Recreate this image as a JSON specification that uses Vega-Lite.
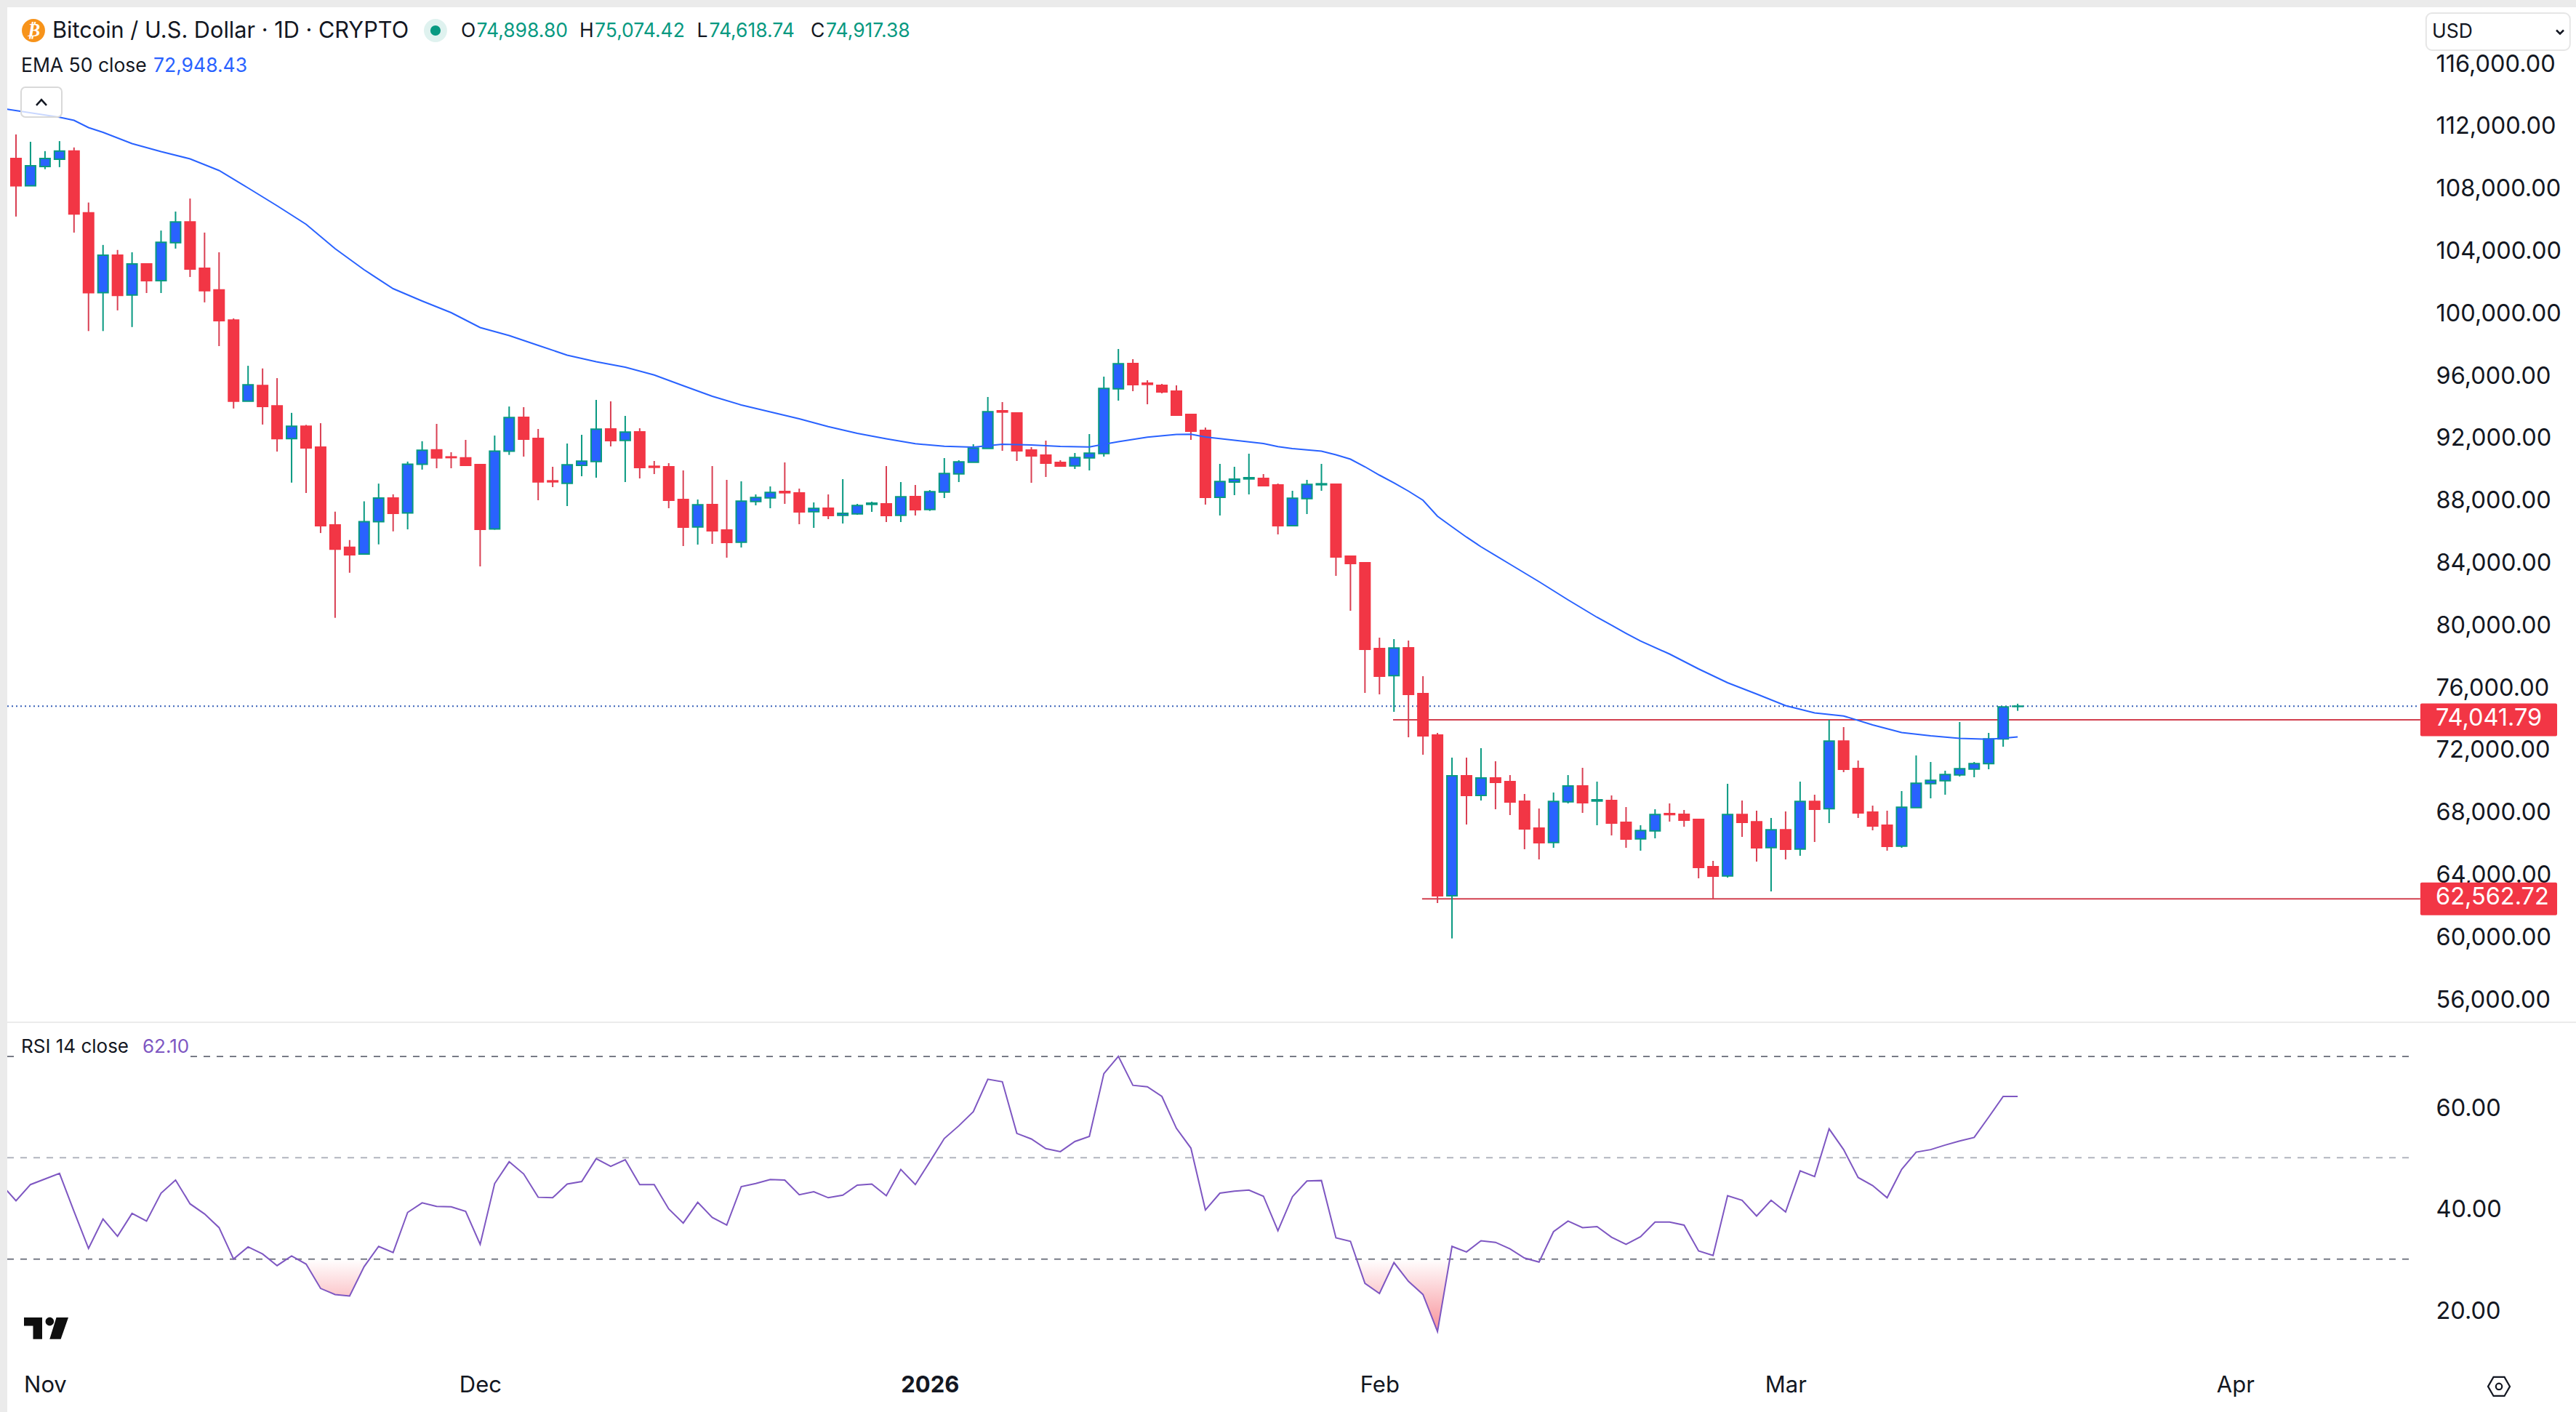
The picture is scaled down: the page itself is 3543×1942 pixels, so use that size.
{"$schema":"https://vega.github.io/schema/vega-lite/v6.json","background":"#ebebeb","padding":{"left":9,"top":10,"right":0,"bottom":0},"spacing":2,"bounds":"flush","config":{"view":{"fill":"#ffffff","stroke":null},"text":{"font":"Inter"},"axis":{"labelFont":"Inter","labelColor":"#131722","domain":false,"ticks":false,"grid":false}},
"datasets":{"candles":[
{"date":"2025-10-29","rsi":44.7},
{"date":"2025-10-30","open":110035,"high":111576,"low":106311,"close":108280,"rsi":41.5},
{"date":"2025-10-31","open":108280,"high":111105,"low":108280,"close":109564,"rsi":44.7},
{"date":"2025-11-01","open":109521,"high":110506,"low":109350,"close":110035,"rsi":45.8},
{"date":"2025-11-02","open":109992,"high":111148,"low":109479,"close":110506,"rsi":46.9},
{"date":"2025-11-03","open":110506,"high":110741,"low":105283,"close":106482,"rsi":39.4},
{"date":"2025-11-04","open":106546,"high":107210,"low":98969,"close":101430,"rsi":32.1},
{"date":"2025-11-05","open":101430,"high":104491,"low":98969,"close":103828,"rsi":37.9},
{"date":"2025-11-06","open":103828,"high":104170,"low":100296,"close":101259,"rsi":34.5},
{"date":"2025-11-07","open":101281,"high":104020,"low":99226,"close":103271,"rsi":39.0},
{"date":"2025-11-08","open":103271,"high":103314,"low":101409,"close":102201,"rsi":37.5},
{"date":"2025-11-09","open":102201,"high":105412,"low":101409,"close":104663,"rsi":43.0},
{"date":"2025-11-10","open":104641,"high":106632,"low":104256,"close":105968,"rsi":45.6},
{"date":"2025-11-11","open":105968,"high":107466,"low":102436,"close":102950,"rsi":40.9},
{"date":"2025-11-12","open":102993,"high":105283,"low":100809,"close":101559,"rsi":38.9},
{"date":"2025-11-13","open":101601,"high":104020,"low":98005,"close":99632,"rsi":36.2},
{"date":"2025-11-14","open":99675,"high":99782,"low":94003,"close":94474,"rsi":30.0},
{"date":"2025-11-15","open":94474,"high":96742,"low":94474,"close":95522,"rsi":32.4},
{"date":"2025-11-16","open":95480,"high":96571,"low":92975,"close":94131,"rsi":31.0},
{"date":"2025-11-17","open":94174,"high":95951,"low":91242,"close":92076,"rsi":28.7},
{"date":"2025-11-18","open":92076,"high":93724,"low":89251,"close":92868,"rsi":30.6},
{"date":"2025-11-19","open":92868,"high":92954,"low":88587,"close":91477,"rsi":29.0},
{"date":"2025-11-20","open":91520,"high":93061,"low":86019,"close":86489,"rsi":24.2},
{"date":"2025-11-21","open":86532,"high":87389,"low":80582,"close":84991,"rsi":23.0},
{"date":"2025-11-22","open":85098,"high":85569,"low":83472,"close":84627,"rsi":22.7},
{"date":"2025-11-23","open":84670,"high":88052,"low":84627,"close":86746,"rsi":28.5},
{"date":"2025-11-24","open":86746,"high":89187,"low":85291,"close":88266,"rsi":32.5},
{"date":"2025-11-25","open":88266,"high":88501,"low":86126,"close":87281,"rsi":31.3},
{"date":"2025-11-26","open":87303,"high":90599,"low":86254,"close":90428,"rsi":39.2},
{"date":"2025-11-27","open":90428,"high":91905,"low":90086,"close":91327,"rsi":41.1},
{"date":"2025-11-28","open":91349,"high":93018,"low":90171,"close":90835,"rsi":40.4},
{"date":"2025-11-29","open":90899,"high":91199,"low":90171,"close":90856,"rsi":40.3},
{"date":"2025-11-30","open":90835,"high":91990,"low":90364,"close":90364,"rsi":39.4},
{"date":"2025-12-01","open":90407,"high":90407,"low":83878,"close":86254,"rsi":32.9},
{"date":"2025-12-02","open":86275,"high":92269,"low":86232,"close":91263,"rsi":44.9},
{"date":"2025-12-03","open":91263,"high":94131,"low":91028,"close":93425,"rsi":49.2},
{"date":"2025-12-04","open":93436,"high":94089,"low":90919,"close":92038,"rsi":46.8},
{"date":"2025-12-05","open":92084,"high":92690,"low":88121,"close":89303,"rsi":42.2},
{"date":"2025-12-06","open":89365,"high":90266,"low":88961,"close":89303,"rsi":42.1},
{"date":"2025-12-07","open":89209,"high":91758,"low":87748,"close":90390,"rsi":44.8},
{"date":"2025-12-08","open":90359,"high":92317,"low":89660,"close":90624,"rsi":45.3},
{"date":"2025-12-09","open":90608,"high":94555,"low":89567,"close":92675,"rsi":49.8},
{"date":"2025-12-10","open":92690,"high":94462,"low":91571,"close":91944,"rsi":48.3},
{"date":"2025-12-11","open":91960,"high":93529,"low":89287,"close":92488,"rsi":49.6},
{"date":"2025-12-12","open":92504,"high":92737,"low":89520,"close":90219,"rsi":44.7},
{"date":"2025-12-13","open":90297,"high":90639,"low":89800,"close":90235,"rsi":44.7},
{"date":"2025-12-14","open":90266,"high":90499,"low":87609,"close":88121,"rsi":39.9},
{"date":"2025-12-15","open":88168,"high":90033,"low":85184,"close":86397,"rsi":37.1},
{"date":"2025-12-16","open":86412,"high":88168,"low":85277,"close":87826,"rsi":41.2},
{"date":"2025-12-17","open":87842,"high":90313,"low":85324,"close":86163,"rsi":38.2},
{"date":"2025-12-18","open":86210,"high":89427,"low":84438,"close":85417,"rsi":36.7},
{"date":"2025-12-19","open":85433,"high":89333,"low":85091,"close":88059,"rsi":44.3},
{"date":"2025-12-20","open":88044,"high":88494,"low":87795,"close":88292,"rsi":44.9},
{"date":"2025-12-21","open":88277,"high":89007,"low":87609,"close":88619,"rsi":45.7},
{"date":"2025-12-22","open":88681,"high":90546,"low":87888,"close":88603,"rsi":45.6},
{"date":"2025-12-23","open":88588,"high":88867,"low":86583,"close":87375,"rsi":42.7},
{"date":"2025-12-24","open":87391,"high":87981,"low":86350,"close":87593,"rsi":43.3},
{"date":"2025-12-25","open":87609,"high":88494,"low":86909,"close":87143,"rsi":42.1},
{"date":"2025-12-26","open":87158,"high":89473,"low":86630,"close":87282,"rsi":42.6},
{"date":"2025-12-27","open":87251,"high":87888,"low":87189,"close":87780,"rsi":44.6},
{"date":"2025-12-28","open":87857,"high":88028,"low":87375,"close":87935,"rsi":44.8},
{"date":"2025-12-29","open":87888,"high":90313,"low":86723,"close":87143,"rsi":42.5},
{"date":"2025-12-30","open":87158,"high":89287,"low":86723,"close":88339,"rsi":47.7},
{"date":"2025-12-31","open":88354,"high":89100,"low":87143,"close":87515,"rsi":44.7},
{"date":"2026-01-01","open":87531,"high":88774,"low":87438,"close":88665,"rsi":49.2},
{"date":"2026-01-02","open":88650,"high":90825,"low":88261,"close":89831,"rsi":53.8},
{"date":"2026-01-03","open":89815,"high":90686,"low":89287,"close":90577,"rsi":56.3},
{"date":"2026-01-04","open":90561,"high":91711,"low":90561,"close":91463,"rsi":59.1},
{"date":"2026-01-05","open":91447,"high":94741,"low":91447,"close":93794,"rsi":65.5},
{"date":"2026-01-06","open":93856,"high":94415,"low":91292,"close":93778,"rsi":65.0},
{"date":"2026-01-07","open":93716,"high":93716,"low":90639,"close":91292,"rsi":54.8},
{"date":"2026-01-08","open":91338,"high":91525,"low":89240,"close":90965,"rsi":53.7},
{"date":"2026-01-09","open":91012,"high":91944,"low":89613,"close":90499,"rsi":51.8},
{"date":"2026-01-10","open":90546,"high":90686,"low":90266,"close":90313,"rsi":51.2},
{"date":"2026-01-11","open":90328,"high":91152,"low":90126,"close":90856,"rsi":53.2},
{"date":"2026-01-12","open":90841,"high":92364,"low":90033,"close":91136,"rsi":54.2},
{"date":"2026-01-13","open":91121,"high":96047,"low":90919,"close":95285,"rsi":66.6},
{"date":"2026-01-14","open":95270,"high":97818,"low":94508,"close":96870,"rsi":70.0},
{"date":"2026-01-15","open":96886,"high":97166,"low":95114,"close":95534,"rsi":64.3},
{"date":"2026-01-16","open":95627,"high":95814,"low":94275,"close":95550,"rsi":64.0},
{"date":"2026-01-17","open":95487,"high":95581,"low":94975,"close":95068,"rsi":62.1},
{"date":"2026-01-18","open":95114,"high":95487,"low":93576,"close":93576,"rsi":55.8},
{"date":"2026-01-19","open":93623,"high":93623,"low":91991,"close":92550,"rsi":51.9},
{"date":"2026-01-20","open":92597,"high":92783,"low":87842,"close":88308,"rsi":39.7},
{"date":"2026-01-21","open":88308,"high":90452,"low":87143,"close":89318,"rsi":43.0},
{"date":"2026-01-22","open":89287,"high":90266,"low":88448,"close":89473,"rsi":43.4},
{"date":"2026-01-23","open":89489,"high":91105,"low":88494,"close":89567,"rsi":43.6},
{"date":"2026-01-24","open":89520,"high":89800,"low":89054,"close":89054,"rsi":42.4},
{"date":"2026-01-25","open":89100,"high":89194,"low":85930,"close":86490,"rsi":35.6},
{"date":"2026-01-26","open":86490,"high":88727,"low":86443,"close":88246,"rsi":42.3},
{"date":"2026-01-27","open":88230,"high":89427,"low":87236,"close":89131,"rsi":45.4},
{"date":"2026-01-28","open":89116,"high":90452,"low":88727,"close":89178,"rsi":45.5},
{"date":"2026-01-29","open":89147,"high":89194,"low":83273,"close":84485,"rsi":34.2},
{"date":"2026-01-30","open":84532,"high":84578,"low":81035,"close":84065,"rsi":33.5},
{"date":"2026-01-31","open":84112,"high":84112,"low":75767,"close":78564,"rsi":25.2},
{"date":"2026-02-01","open":78611,"high":79310,"low":75674,"close":76839,"rsi":23.2},
{"date":"2026-02-02","open":76870,"high":79217,"low":74555,"close":78642,"rsi":29.3},
{"date":"2026-02-03","open":78658,"high":79124,"low":72923,"close":75674,"rsi":25.6},
{"date":"2026-02-04","open":75721,"high":76839,"low":71804,"close":73017,"rsi":23.0},
{"date":"2026-02-05","open":73063,"high":73203,"low":62294,"close":62760,"rsi":15.7},
{"date":"2026-02-06","open":62760,"high":71618,"low":60025,"close":70452,"rsi":32.5},
{"date":"2026-02-07","open":70452,"high":71618,"low":67329,"close":69194,"rsi":31.4},
{"date":"2026-02-08","open":69194,"high":72224,"low":68867,"close":70313,"rsi":33.6},
{"date":"2026-02-09","open":70313,"high":71385,"low":68308,"close":70033,"rsi":33.3},
{"date":"2026-02-10","open":70079,"high":70499,"low":67935,"close":68774,"rsi":32.0},
{"date":"2026-02-11","open":68821,"high":69287,"low":65744,"close":67049,"rsi":30.2},
{"date":"2026-02-12","open":67096,"high":68354,"low":65091,"close":66164,"rsi":29.4},
{"date":"2026-02-13","open":66179,"high":69380,"low":65837,"close":68805,"rsi":35.4},
{"date":"2026-02-14","open":68790,"high":70499,"low":68681,"close":69800,"rsi":37.5},
{"date":"2026-02-15","open":69800,"high":70965,"low":68075,"close":68727,"rsi":36.2},
{"date":"2026-02-16","open":68836,"high":70079,"low":67282,"close":68914,"rsi":36.4},
{"date":"2026-02-17","open":68867,"high":69194,"low":66630,"close":67422,"rsi":34.3},
{"date":"2026-02-18","open":67469,"high":68448,"low":65837,"close":66397,"rsi":32.9},
{"date":"2026-02-19","open":66412,"high":67282,"low":65651,"close":66940,"rsi":34.4},
{"date":"2026-02-20","open":66925,"high":68308,"low":66443,"close":67966,"rsi":37.3},
{"date":"2026-02-21","open":68028,"high":68681,"low":67515,"close":67966,"rsi":37.3},
{"date":"2026-02-22","open":67982,"high":68261,"low":67189,"close":67608,"rsi":36.7},
{"date":"2026-02-23","open":67655,"high":67655,"low":63879,"close":64578,"rsi":31.6},
{"date":"2026-02-24","open":64625,"high":64998,"low":62574,"close":64019,"rsi":30.7},
{"date":"2026-02-25","open":64034,"high":69940,"low":63926,"close":67966,"rsi":42.5},
{"date":"2026-02-26","open":67966,"high":68867,"low":66537,"close":67469,"rsi":41.6},
{"date":"2026-02-27","open":67500,"high":68214,"low":64951,"close":65837,"rsi":38.5},
{"date":"2026-02-28","open":65852,"high":67748,"low":63039,"close":66987,"rsi":41.6},
{"date":"2026-03-01","open":66987,"high":68168,"low":65091,"close":65743,"rsi":39.3},
{"date":"2026-03-02","open":65759,"high":70079,"low":65324,"close":68805,"rsi":47.4},
{"date":"2026-03-03","open":68805,"high":69240,"low":66210,"close":68308,"rsi":46.3},
{"date":"2026-03-04","open":68339,"high":74042,"low":67422,"close":72674,"rsi":55.7},
{"date":"2026-03-05","open":72674,"high":73576,"low":70685,"close":70872,"rsi":51.6},
{"date":"2026-03-06","open":70918,"high":71431,"low":67748,"close":68075,"rsi":46.1},
{"date":"2026-03-07","open":68121,"high":68541,"low":66955,"close":67235,"rsi":44.5},
{"date":"2026-03-08","open":67282,"high":68214,"low":65650,"close":65930,"rsi":42.1},
{"date":"2026-03-09","open":65945,"high":69473,"low":65837,"close":68432,"rsi":47.7},
{"date":"2026-03-10","open":68416,"high":71757,"low":68401,"close":69970,"rsi":51.1},
{"date":"2026-03-11","open":69955,"high":71338,"low":69007,"close":70157,"rsi":51.6},
{"date":"2026-03-12","open":70141,"high":70778,"low":69240,"close":70530,"rsi":52.5},
{"date":"2026-03-13","open":70514,"high":73902,"low":70405,"close":70903,"rsi":53.3},
{"date":"2026-03-14","open":70887,"high":71338,"low":70359,"close":71229,"rsi":54.0},
{"date":"2026-03-15","open":71229,"high":73203,"low":70872,"close":72814,"rsi":58.0},
{"date":"2026-03-16","open":72814,"high":74881,"low":72317,"close":74865,"rsi":62.1},
{"date":"2026-03-17","open":74898.80,"high":75074.42,"low":74618.74,"close":74917.38,"rsi":62.10}
],
"ema":[
{"date":"2025-10-29","ema":113250},{"date":"2025-11-02","ema":112681},{"date":"2025-11-03","ema":112480},{"date":"2025-11-04","ema":112014},{"date":"2025-11-05","ema":111711},{"date":"2025-11-07","ema":110989},{"date":"2025-11-09","ema":110476},{"date":"2025-11-11","ema":110010},{"date":"2025-11-13","ema":109264},{"date":"2025-11-15","ema":108145},{"date":"2025-11-17","ema":107003},{"date":"2025-11-19","ema":105814},{"date":"2025-11-21","ema":104252},{"date":"2025-11-23","ema":102900},{"date":"2025-11-25","ema":101688},{"date":"2025-11-27","ema":100895},{"date":"2025-11-29","ema":100149},{"date":"2025-12-01","ema":99194},{"date":"2025-12-03","ema":98681},{"date":"2025-12-05","ema":98051},{"date":"2025-12-07","ema":97422},{"date":"2025-12-09","ema":97003},{"date":"2025-12-11","ema":96653},{"date":"2025-12-13","ema":96154},{"date":"2025-12-15","ema":95464},{"date":"2025-12-17","ema":94788},{"date":"2025-12-19","ema":94229},{"date":"2025-12-21","ema":93786},{"date":"2025-12-23","ema":93343},{"date":"2025-12-25","ema":92844},{"date":"2025-12-27","ema":92410},{"date":"2025-12-29","ema":92061},{"date":"2025-12-31","ema":91744},{"date":"2026-01-02","ema":91585},{"date":"2026-01-04","ema":91525},{"date":"2026-01-06","ema":91711},{"date":"2026-01-08","ema":91665},{"date":"2026-01-10","ema":91571},{"date":"2026-01-12","ema":91539},{"date":"2026-01-13","ema":91711},{"date":"2026-01-14","ema":91874},{"date":"2026-01-16","ema":92163},{"date":"2026-01-18","ema":92340},{"date":"2026-01-19","ema":92350},{"date":"2026-01-20","ema":92177},{"date":"2026-01-22","ema":91967},{"date":"2026-01-24","ema":91758},{"date":"2026-01-25","ema":91557},{"date":"2026-01-26","ema":91431},{"date":"2026-01-28","ema":91264},{"date":"2026-01-29","ema":91035},{"date":"2026-01-30","ema":90756},{"date":"2026-01-31","ema":90266},{"date":"2026-02-01","ema":89730},{"date":"2026-02-02","ema":89240},{"date":"2026-02-03","ema":88704},{"date":"2026-02-04","ema":88121},{"date":"2026-02-05","ema":87096},{"date":"2026-02-06","ema":86420},{"date":"2026-02-07","ema":85758},{"date":"2026-02-08","ema":85138},{"date":"2026-02-10","ema":84019},{"date":"2026-02-12","ema":82900},{"date":"2026-02-14","ema":81734},{"date":"2026-02-16","ema":80616},{"date":"2026-02-17","ema":80103},{"date":"2026-02-18","ema":79590},{"date":"2026-02-19","ema":79091},{"date":"2026-02-21","ema":78261},{"date":"2026-02-23","ema":77306},{"date":"2026-02-25","ema":76420},{"date":"2026-02-27","ema":75697},{"date":"2026-03-01","ema":74951},{"date":"2026-03-03","ema":74485},{"date":"2026-03-05","ema":74289},{"date":"2026-03-07","ema":73716},{"date":"2026-03-09","ema":73226},{"date":"2026-03-11","ema":73017},{"date":"2026-03-13","ema":72853},{"date":"2026-03-15","ema":72793},{"date":"2026-03-16","ema":72863},{"date":"2026-03-17","ema":72948.43}
],
"levels":[
{"level":74041.79,"label":"74,041.79","from":"2026-02-01T22:30:00Z","to":"2026-04-13T18:14:00Z","boxEnd":"2026-04-23T04:34:00Z","labelAt":"2026-04-14T19:41:00Z","boxTop":75091,"boxBottom":72993},
{"level":62562.72,"label":"62,562.72","from":"2026-02-03T22:30:00Z","to":"2026-04-13T18:14:00Z","boxEnd":"2026-04-23T04:34:00Z","labelAt":"2026-04-14T19:41:00Z","boxTop":63612,"boxBottom":61514}
],
"legendMain":[
{"text":"O","date":"2025-11-29T16:15:00Z","price":118191,"tone":"ink"},
{"text":"74,898.80","date":"2025-11-30T18:06:00Z","price":118191,"tone":"up"},
{"text":"H","date":"2025-12-07T20:20:00Z","price":118191,"tone":"ink"},
{"text":"75,074.42","date":"2025-12-08T21:36:00Z","price":118191,"tone":"up"},
{"text":"L","date":"2025-12-15T22:34:00Z","price":118191,"tone":"ink"},
{"text":"74,618.74","date":"2025-12-16T19:00:00Z","price":118191,"tone":"up"},
{"text":"C","date":"2025-12-23T19:00:00Z","price":118191,"tone":"ink"},
{"text":"74,917.38","date":"2025-12-24T20:10:00Z","price":118191,"tone":"up"},
{"text":"EMA 50 close","date":"2025-10-30T08:25:00Z","price":115953,"tone":"ink"},
{"text":"72,948.43","date":"2025-11-08T11:22:00Z","price":115953,"tone":"ema"},
{"text":"USD","date":"2026-04-14T13:41:00Z","price":118145,"tone":"ink"}
],
"bands":[{"level":70,"kind":"outer","from":"2025-10-29T09:34:00Z","to":"2026-04-13T08:38:00Z"},{"level":50,"kind":"mid","from":"2025-10-29T09:34:00Z","to":"2026-04-13T08:38:00Z"},{"level":30,"kind":"outer","from":"2025-10-29T09:34:00Z","to":"2026-04-13T08:38:00Z"}],
"oversold":[
{"date":"2025-11-18T10:00:00Z","rsi":30},{"date":"2025-11-19","rsi":29.0},{"date":"2025-11-20","rsi":24.2},{"date":"2025-11-21","rsi":23.0},{"date":"2025-11-22","rsi":22.7},{"date":"2025-11-23","rsi":28.5},{"date":"2025-11-23T09:00:00Z","rsi":30},
{"date":"2026-01-30T10:00:00Z","rsi":30},{"date":"2026-01-31","rsi":25.2},{"date":"2026-02-01","rsi":23.2},{"date":"2026-02-02","rsi":29.3},{"date":"2026-02-03","rsi":25.6},{"date":"2026-02-04","rsi":23.0},{"date":"2026-02-05","rsi":15.7},{"date":"2026-02-05T20:00:00Z","rsi":30}
]},
"vconcat":[
{"width":3534,"height":1395,"layer":[
{"data":{"values":[{"date":"2025-10-29T09:34:00Z","to":"2026-04-13T15:50:00Z","last":74917.38}]},"mark":{"type":"rule","strokeWidth":2,"strokeDash":[2,4],"color":"#3a62b8"},"encoding":{"x":{"field":"date","type":"temporal","axis":null,"scale":{"type":"utc","padding":0,"domain":["2025-10-29T09:34:00Z","2026-04-24T13:00:00Z"]}},"x2":{"field":"to"},"y":{"field":"last","type":"quantitative","title":null,"scale":{"domain":[54695,119730],"nice":false,"zero":false},"axis":{"title":null,"orient":"right","offset":-194,"values":[56000,60000,64000,68000,72000,76000,80000,84000,88000,92000,96000,100000,104000,108000,112000,116000],"format":",.2f","labelFontSize":32.5,"labelAlign":"left","labelPadding":0,"labelBaseline":"middle","labelOverlap":false,"labelBound":false,"labelFlush":false,"labelOffset":-2}}}},
{"data":{"name":"levels"},"mark":{"type":"rule","strokeWidth":2,"color":"#d2404f"},"encoding":{"x":{"field":"from","type":"temporal","axis":null},"x2":{"field":"to"},"y":{"field":"level","type":"quantitative","title":null}}},
{"data":{"name":"candles"},"mark":{"type":"rule","strokeWidth":2},"encoding":{"x":{"field":"date","type":"temporal","axis":null},"y":{"field":"low","type":"quantitative","title":null},"y2":{"field":"high"},"color":{"condition":{"test":"datum.close>=datum.open","value":"#089981"},"value":"#d93f52"}}},
{"data":{"name":"candles"},"mark":{"type":"bar","size":14,"strokeWidth":2,"strokeOpacity":1,"fillOpacity":1},"encoding":{"x":{"field":"date","type":"temporal","axis":null},"y":{"field":"open","type":"quantitative","title":null},"y2":{"field":"close"},"fill":{"condition":{"test":"datum.close>=datum.open","value":"#2962ff"},"value":"#f23645"},"stroke":{"condition":{"test":"datum.close>=datum.open","value":"#089981"},"value":"#f23645"}}},
{"data":{"name":"ema"},"mark":{"type":"line","strokeWidth":2,"color":"#2962ff","clip":true},"encoding":{"x":{"field":"date","type":"temporal","axis":null},"y":{"field":"ema","type":"quantitative","title":null}}},
{"data":{"name":"levels"},"mark":{"type":"rect","color":"#f23645","cornerRadius":2},"encoding":{"x":{"field":"to","type":"temporal","axis":null},"x2":{"field":"boxEnd"},"y":{"field":"boxTop","type":"quantitative","title":null},"y2":{"field":"boxBottom"}}},
{"data":{"name":"levels"},"mark":{"type":"text","align":"left","baseline":"middle","fontSize":32.5,"color":"#ffffff","dy":-2,"font":"Inter"},"encoding":{"x":{"field":"labelAt","type":"temporal","axis":null},"y":{"field":"level","type":"quantitative","title":null},"text":{"field":"label"}}},
{"data":{"values":[{"from":"2025-10-30T08:25:00Z","to":"2025-11-02T03:48:00Z","top":114602,"bottom":112690}]},"mark":{"type":"rect","fill":"#ffffff","fillOpacity":0.75,"stroke":"#d9d9d9","strokeWidth":2,"cornerRadius":6},"encoding":{"x":{"field":"from","type":"temporal","axis":null},"x2":{"field":"to"},"y":{"field":"top","type":"quantitative","title":null},"y2":{"field":"bottom"}}},
{"data":{"values":[{"date":"2025-10-31T18:06:00Z","price":113623}]},"mark":{"type":"point","shape":"M-1,0.55 L0,-0.55 L1,0.55","size":196,"filled":false,"stroke":"#131722","strokeWidth":2.5,"opacity":1},"encoding":{"x":{"field":"date","type":"temporal","axis":null},"y":{"field":"price","type":"quantitative","title":null}}},
{"data":{"values":[{"from":"2026-04-14T03:50:00Z","to":"2026-04-24T01:55:00Z","top":119357,"bottom":116979}]},"mark":{"type":"rect","fill":"#ffffff","stroke":"#e6e6e6","strokeWidth":2,"cornerRadius":8},"encoding":{"x":{"field":"from","type":"temporal","axis":null},"x2":{"field":"to"},"y":{"field":"top","type":"quantitative","title":null},"y2":{"field":"bottom"}}},
{"data":{"values":[{"date":"2026-04-23T09:22:00Z","price":118145}]},"mark":{"type":"point","shape":"M-1,-0.5 L0,0.5 L1,-0.5","size":100,"filled":false,"stroke":"#131722","strokeWidth":2.5,"opacity":1},"encoding":{"x":{"field":"date","type":"temporal","axis":null},"y":{"field":"price","type":"quantitative","title":null}}},
{"data":{"values":[{"date":"2025-10-31T04:52:00Z","price":118238}]},"mark":{"type":"point","shape":"circle","filled":true,"size":1018,"color":"#f7931a","opacity":1},"encoding":{"x":{"field":"date","type":"temporal","axis":null},"y":{"field":"price","type":"quantitative","title":null}}},
{"data":{"values":[{"date":"2025-10-31T04:52:00Z","price":118238,"glyph":"₿"}]},"mark":{"type":"text","font":"DejaVu Sans","fontSize":25,"fontWeight":"bold","fontStyle":"italic","color":"#ffffff","align":"center","baseline":"middle"},"encoding":{"x":{"field":"date","type":"temporal","axis":null},"y":{"field":"price","type":"quantitative","title":null},"text":{"field":"glyph"}}},
{"data":{"values":[{"date":"2025-11-27T22:05:00Z","price":118238}]},"mark":{"type":"point","shape":"circle","filled":true,"size":1018,"color":"#dff2ef","opacity":1},"encoding":{"x":{"field":"date","type":"temporal","axis":null},"y":{"field":"price","type":"quantitative","title":null}}},
{"data":{"values":[{"date":"2025-11-27T22:05:00Z","price":118238}]},"mark":{"type":"point","shape":"circle","filled":true,"size":201,"color":"#089981","opacity":1},"encoding":{"x":{"field":"date","type":"temporal","axis":null},"y":{"field":"price","type":"quantitative","title":null}}},
{"data":{"values":[{"text":"Bitcoin / U.S. Dollar · 1D · CRYPTO","date":"2025-11-01T12:09:00Z","price":118191}]},"mark":{"type":"text","align":"left","baseline":"middle","fontSize":30.7,"font":"Inter","color":"#131722"},"encoding":{"x":{"field":"date","type":"temporal","axis":null},"y":{"field":"price","type":"quantitative","title":null},"text":{"field":"text"}}},
{"data":{"name":"legendMain"},"mark":{"type":"text","align":"left","baseline":"middle","fontSize":26.5,"font":"Inter"},"encoding":{"x":{"field":"date","type":"temporal","axis":null},"y":{"field":"price","type":"quantitative","title":null},"text":{"field":"text"},"color":{"field":"tone","type":"nominal","legend":null,"scale":{"domain":["ink","up","ema","value"],"range":["#131722","#089981","#2962ff","#7e57c2"]}}}}
]},
{"width":3534,"height":535,"layer":[
{"data":{"name":"bands"},"transform":[{"filter":"datum.kind=='outer'"}],"mark":{"type":"rule","strokeWidth":2,"strokeDash":[9,9],"color":"#787b86"},"encoding":{"x":{"field":"from","type":"temporal","title":null,"scale":{"type":"utc","padding":0,"domain":["2025-10-29T09:34:00Z","2026-04-24T13:00:00Z"]},"axis":{"title":null,"orient":"bottom","offset":-37,"values":[{"year":2025,"month":11,"date":1,"utc":true},{"year":2025,"month":12,"date":1,"utc":true},{"year":2026,"month":1,"date":1,"utc":true},{"year":2026,"month":2,"date":1,"utc":true},{"year":2026,"month":3,"date":1,"utc":true},{"year":2026,"month":4,"date":1,"utc":true}],"labelExpr":"utcmonth(datum.value)==0 ? ''+utcyear(datum.value) : utcFormat(datum.value,'%b')","labelFontSize":31,"labelPadding":0,"labelBaseline":"middle","labelOverlap":false,"labelBound":false,"labelFlush":false,"labelFontWeight":{"condition":{"test":"utcmonth(datum.value)==0","value":"bold"},"value":"normal"}}},"x2":{"field":"to"},"y":{"field":"level","type":"quantitative","title":null,"scale":{"domain":[-0.19,76.59],"nice":false,"zero":false},"axis":{"title":null,"orient":"right","offset":-194,"values":[20,40,60],"format":".2f","labelFontSize":32.5,"labelAlign":"left","labelPadding":0,"labelBaseline":"middle","labelOverlap":false,"labelBound":false,"labelFlush":false,"labelOffset":2}}}},
{"data":{"name":"bands"},"transform":[{"filter":"datum.kind=='mid'"}],"mark":{"type":"rule","strokeWidth":2,"strokeDash":[9,9],"color":"#b2b5be"},"encoding":{"x":{"field":"from","type":"temporal","title":null},"x2":{"field":"to"},"y":{"field":"level","type":"quantitative","title":null}}},
{"data":{"values":[{"from":"2025-10-30T07:00:00Z","to":"2025-11-10T17:31:00Z","top":70.43,"bottom":69.57}]},"mark":{"type":"rect","color":"#ffffff"},"encoding":{"x":{"field":"from","type":"temporal","title":null},"x2":{"field":"to"},"y":{"field":"top","type":"quantitative","title":null},"y2":{"field":"bottom"}}},
{"data":{"name":"oversold"},"mark":{"type":"area","clip":true,"interpolate":"linear","color":{"x1":0,"y1":0,"x2":0,"y2":1,"gradient":"linear","stops":[{"offset":0,"color":"rgba(242,54,69,0)"},{"offset":1,"color":"rgba(242,54,69,0.55)"}]}},"encoding":{"x":{"field":"date","type":"temporal","title":null},"y":{"field":"rsi","type":"quantitative","title":null},"y2":{"datum":30}}},
{"data":{"name":"candles"},"mark":{"type":"line","strokeWidth":2,"color":"#7e57c2","clip":true},"encoding":{"x":{"field":"date","type":"temporal","title":null},"y":{"field":"rsi","type":"quantitative","title":null}}},
{"data":{"values":[{"text":"RSI 14 close","date":"2025-10-30T08:25:00Z","rsi":71.85,"tone":"ink"},{"text":"62.10","date":"2025-11-07T17:17:00Z","rsi":71.85,"tone":"value"}]},"mark":{"type":"text","align":"left","baseline":"middle","fontSize":26,"font":"Inter"},"encoding":{"x":{"field":"date","type":"temporal","title":null},"y":{"field":"rsi","type":"quantitative","title":null},"text":{"field":"text"},"color":{"field":"tone","type":"nominal","legend":null,"scale":{"domain":["ink","up","ema","value"],"range":["#131722","#089981","#2962ff","#7e57c2"]}}}},
{"data":{"values":[{"date":"2025-11-01T01:55:00Z","rsi":16.33}]},"mark":{"type":"point","shape":"M-1,-0.49 L-0.18,-0.49 L-0.18,0.49 L-0.59,0.49 L-0.59,-0.115 L-1,-0.115 Z M-0.03,-0.31 A0.19,0.19 0 1 1 0.35,-0.31 A0.19,0.19 0 1 1 -0.03,-0.31 Z M0.46,-0.49 L1,-0.49 L0.66,0.49 L0.157,0.49 Z","size":3721,"filled":true,"color":"#0f0f0f","opacity":1},"encoding":{"x":{"field":"date","type":"temporal","title":null},"y":{"field":"rsi","type":"quantitative","title":null}}},
{"data":{"values":[{"date":"2026-04-19T04:19:00Z","rsi":4.85}]},"mark":{"type":"point","shape":"M-1,0 L-0.5,-0.87 L0.5,-0.87 L1,0 L0.5,0.87 L-0.5,0.87 Z M-0.28,0 A0.28,0.28 0 1 1 0.28,0 A0.28,0.28 0 1 1 -0.28,0 Z","size":900,"filled":false,"stroke":"#131722","strokeWidth":2.2,"opacity":1},"encoding":{"x":{"field":"date","type":"temporal","title":null},"y":{"field":"rsi","type":"quantitative","title":null}}}
]}
]}
